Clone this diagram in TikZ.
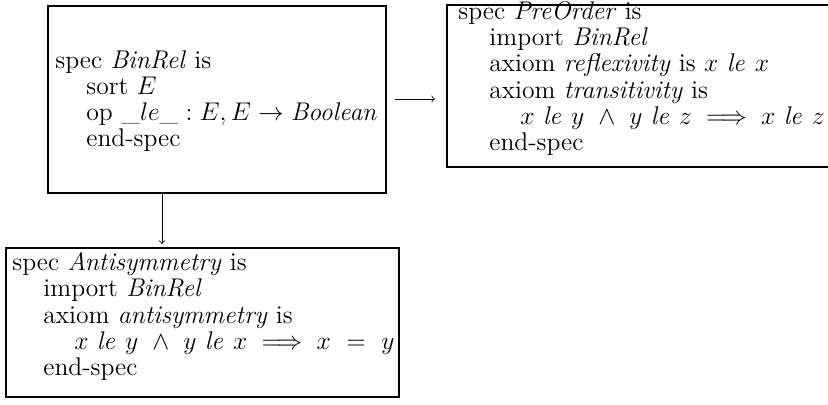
\RequirePackage{fix-cm}
\documentclass[tikz,border=0pt]{standalone}
\usepackage{amsmath}
\begin{document}
\begin{tikzpicture}[x=0.5pt,y=-0.5pt,
  box/.style={draw, line width=1pt, inner sep=0pt, anchor=north west},
  txt/.style={anchor=north west, inner sep=0pt, align=left, font=\fontsize{12.8}{13.1}\selectfont},
  conn/.style={->, >=to, line width=0.4pt}]
\clip (0,0) rectangle (828,404);
\node[box, minimum width=169pt, minimum height=93.5pt] (b1) at (47,5) {};
\node[box, minimum width=200pt, minimum height=81pt] (b2) at (446,4) {};
\node[box, minimum width=196.5pt, minimum height=74.5pt] (b3) at (5,247) {};
\node[txt] (t1) at (55,50) {spec \textit{BinRel} is\\
\hspace{15.5pt}sort $E$\\
\hspace{15.5pt}op $\_le\_ : E, E \rightarrow \mathit{Boolean}$\\
\hspace{15.5pt}end-spec};
\node[txt] (t2) at (458,1) {spec \textit{PreOrder} is\\
\hspace{15.5pt}import \textit{BinRel}\\
\hspace{15.5pt}axiom \textit{reflexivity} is $x~\mathit{le}~x$\\
\hspace{15.5pt}axiom \textit{transitivity} is\\
\hspace{31pt}$x~\mathit{le}~y\ \wedge\ y~\mathit{le}~z \implies x~\mathit{le}~z$\\
\hspace{15.5pt}end-spec};
\node[txt] (t3) at (12,252) {spec \textit{Antisymmetry} is\\
\hspace{15.5pt}import \textit{BinRel}\\
\hspace{15.5pt}axiom \textit{antisymmetry} is\\
\hspace{31pt}$x~\mathit{le}~y\ \wedge\ y~\mathit{le}~x \implies x\ =\ y$\\
\hspace{15.5pt}end-spec};
\draw[conn, shorten <=4pt, shorten >=5.5pt] (b1.east |- 0,99) -- (b2.west |- 0,99);
\draw[conn, shorten >=1.5pt] ([xshift=57.5pt]b1.south west) -- ([xshift=57.5pt]b1.south west |- b3.north);
\end{tikzpicture}
\end{document}
